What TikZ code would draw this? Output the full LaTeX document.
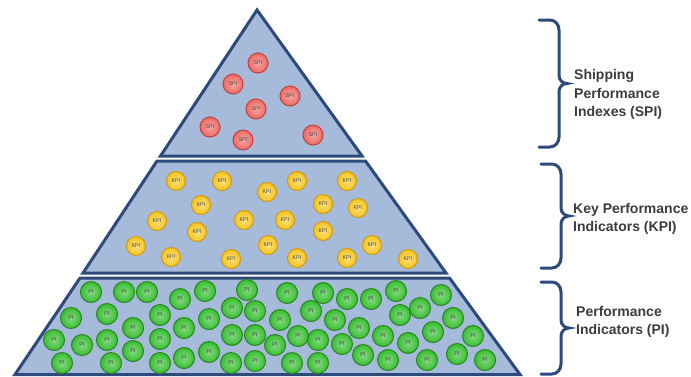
\documentclass[tikz,border=0pt]{standalone}
\usepackage{fontspec}
\setmainfont{Liberation Sans}
\usepackage{tikz}
\usetikzlibrary{positioning}
\definecolor{tierfill}{HTML}{A6BADA}
\definecolor{tierline}{HTML}{2E4A7C}
\definecolor{labelink}{HTML}{3C3C3C}
\definecolor{spimain}{HTML}{EE6A64}
\definecolor{spirim}{HTML}{C2413C}
\definecolor{kpimain}{HTML}{F6C51C}
\definecolor{kpirim}{HTML}{D09A10}
\definecolor{pimain}{HTML}{36BE30}
\definecolor{pirim}{HTML}{2A8422}
% curly bracket on the right: x of the ends, top y, bottom y, name of the tip
\newcommand{\tierbrace}[4]{%
  \draw[bracestyle] (#1,#2) -- (#1+11,#2) to[out=0,in=90] (#1+20,#2+10)
    -- (#1+20,{(#2+#3)/2-8}) to[out=-90,in=180] (#1+28,{(#2+#3)/2})
    coordinate (#4) to[out=180,in=90] (#1+20,{(#2+#3)/2+8})
    -- (#1+20,#3-10) to[out=-90,in=0] (#1+11,#3) -- (#1,#3);}

\begin{document}
\begin{tikzpicture}[x=1pt,y=-1pt,
  tier/.style={fill=tierfill,draw=tierline,line width=3pt},
  bracestyle/.style={draw=tierline,line width=3pt,line cap=round},
  tierlabel/.style={anchor=west,align=left,text=labelink,
    font=\bfseries\fontsize{14}{18.5}\selectfont,inner sep=0pt},
  ball/.style={circle,inner sep=0pt,line width=1pt,
    font=\fontsize{5.5}{5.5}\selectfont},
  spiball/.style={ball,minimum size=20pt,draw=spirim,
    inner color=spimain!60!white,outer color=spimain,text=black!70},
  kpiball/.style={ball,minimum size=19pt,draw=kpirim,
    inner color=kpimain!55!white,outer color=kpimain,text=black!70},
  piball/.style={ball,minimum size=21pt,draw=pirim,
    inner color=pimain!60!white,outer color=pimain,text=black!75}]
\useasboundingbox (0,0) rectangle (691,376);

% ---------- the three tiers ----------
\draw[tier] (257,10) -- (362,156) -- (160.5,156) -- cycle;
\draw[tier] (157,161) -- (365.5,161) -- (446,273) -- (83,273) -- cycle;
\draw[tier] (80,278) -- (449.5,278) -- (520,374.5) -- (15,374.5) -- cycle;

% ---------- SPI ----------
\foreach \x/\y [count=\i] in {258/63,233/84,290/96,256/109,210/127,243/140,313/135}
  \node[spiball] (spi\i) at (\x,\y) {SPI};

% ---------- KPI ----------
\foreach \x/\y [count=\i] in {176/181,222/181,297/181,347/181,267/192,
    201/205,323/204,358/208,157/221,244/220,285/220,197/232,323/231,
    136/246,268/245,372/245,171/257,231/259,297/258,347/258,408/259}
  \node[kpiball] (kpi\i) at (\x,\y) {KPI};

% ---------- PI ----------
\foreach \x/\y [count=\i] in {91/292,124/292,147/292,180/299,205/291,247/290,
    287/293,323/293,347/299,371/299,396/291,441/295,
    71/318,107/314,133/328,160/315,184/328,209/319,232/308,255/311,
    280/320,311/311,335/320,359/328,400/315,420/308,453/318,
    54/340,82/345,107/340,160/339,232/335,255/335,275/345,298/336,
    318/340,342/344,383/336,433/332,473/336,408/343,
    133/351,209/352,184/358,363/355,457/354,
    62/363,111/363,160/363,231/363,255/361,292/363,318/363,388/360,
    427/360,485/360}
  \node[piball] (pi\i) at (\x,\y) {PI};

% ---------- brackets and labels ----------
\tierbrace{539}{20}{147}{spitip}
\tierbrace{541}{164}{268}{kpitip}
\tierbrace{541}{282}{374}{pitip}

\node[tierlabel,right=7pt of spitip,yshift=-11pt] (spilabel) {Shipping\\Performance\\Indexes (SPI)};
\node[tierlabel,right=4pt of kpitip,yshift=-3pt] (kpilabel) {Key Performance\\Indicators (KPI)};
\node[tierlabel,right=7pt of pitip,yshift=6pt] (pilabel) {Performance\\Indicators (PI)};
\end{tikzpicture}
\end{document}
